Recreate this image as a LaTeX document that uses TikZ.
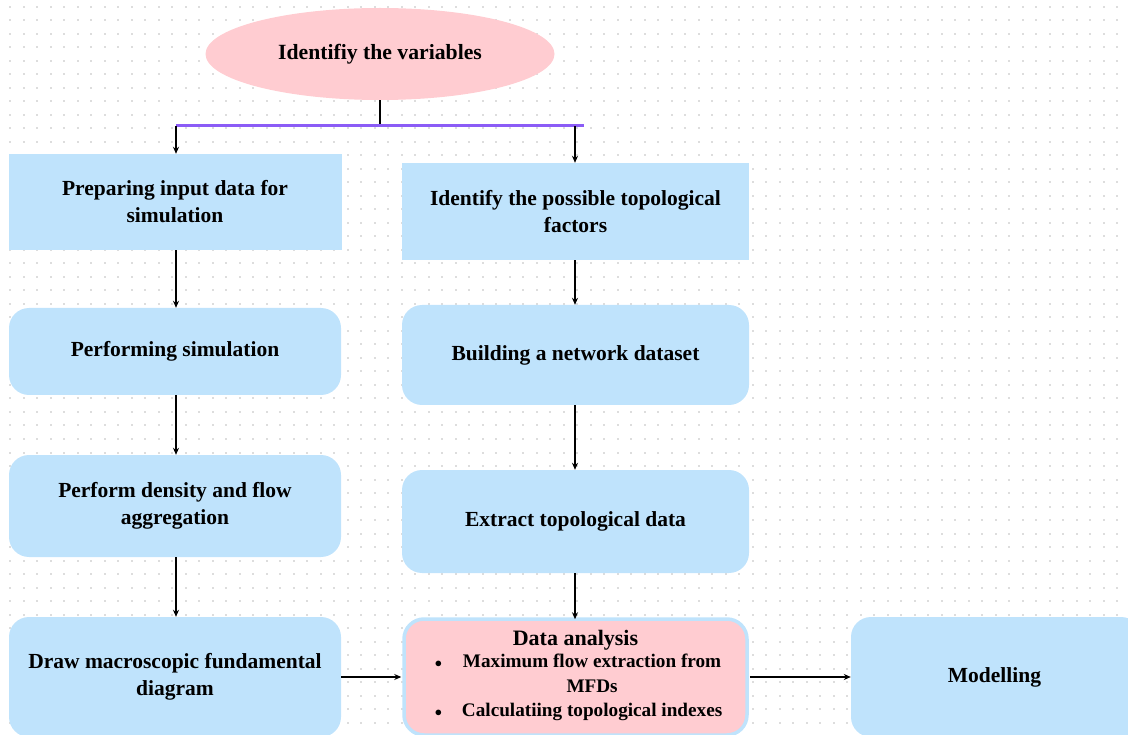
\documentclass[tikz,border=0pt]{standalone}
\usepackage{fontspec}
\setmainfont{Liberation Serif}
\usetikzlibrary{shapes.geometric,arrows.meta}
\definecolor{boxblue}{RGB}{191,227,252}
\definecolor{softpink}{RGB}{255,204,209}
\definecolor{barpurple}{RGB}{139,92,246}
\definecolor{dotgray}{RGB}{221,221,221}
\tikzset{
  stepbox/.style={fill=boxblue, draw=none, minimum width=#1, inner sep=0pt,
    align=center, font=\fontsize{21.5}{27}\selectfont\bfseries},
  roundbox/.style={stepbox=#1, rounded corners=20pt},
  flow/.style={draw=black, line width=1.2pt, -{Stealth[length=7pt,width=6pt]}},
}
\begin{document}
\begin{tikzpicture}[x=1pt,y=-1pt]
\useasboundingbox (0,0) rectangle (1128,735);
\clip (0,0) rectangle (1128,735);
% dotted grid background
\foreach \i in {0,...,82} {
  \foreach \j in {0,...,54} {
    \fill[dotgray] ({10+13.5*\i-1},{7+13.5*\j-1}) rectangle ++(2,2);
  }
}
% top ellipse
\node[ellipse, fill=softpink, minimum width=349pt, minimum height=92pt, inner sep=0pt,
  font=\fontsize{21.7}{26}\selectfont\bfseries] (top) at (380,54) {Identifiy the variables};
% left column
\node[stepbox=333pt, minimum height=96pt] (L1) at (175,202) {Preparing input data for\\simulation};
\node[roundbox=332pt, minimum height=87pt] (L2) at (175,351.5) {Performing simulation};
\node[roundbox=332pt, minimum height=102pt] (L3) at (175,506) {Perform density and flow\\aggregation};
\node[roundbox=332pt, minimum height=120pt] (L4) at (175,677) {Draw macroscopic fundamental\\diagram};
% right column
\node[stepbox=347pt, minimum height=97pt] (R1) at (575.5,211.5) {Identify the possible topological\\factors};
\node[roundbox=347pt, minimum height=100pt] (R2) at (575.5,355) {Building a network dataset};
\node[roundbox=347pt, minimum height=103pt] (R3) at (575.5,521.5) {Extract topological data};
\node[roundbox=343pt, minimum height=116pt, fill=softpink, draw=boxblue, line width=3.5pt,
  font=\fontsize{19.2}{24.5}\selectfont\bfseries] (R4) at (575.5,677)
  {\fontsize{22}{24}\selectfont Data analysis\\[0pt]
   \begin{tabular}{@{}c@{\hspace{20pt}}c@{}}
   {\normalfont\fontsize{14}{24.5}\selectfont$\bullet$} & Maximum flow extraction from\\
             & MFDs\\
   {\normalfont\fontsize{14}{24.5}\selectfont$\bullet$} & Calculatiing topological indexes
   \end{tabular}\hspace*{-6pt}};
% final box
\node[roundbox=290pt, minimum height=120pt] (M) at (996,677) {\hspace*{-3pt}Modelling};
% branching from the top
\coordinate (bl) at (176,126);
\coordinate (ba) at (575,126);
\coordinate (br) at (584,126);
\draw[line width=1.3pt] (top.south) -- (top.south |- bl);
\draw[barpurple, line width=3pt] (bl) -- (br);
\draw[flow] (bl) -- (bl |- L1.north);
\draw[flow] (ba) -- (ba |- R1.north);
% column connectors
\draw[flow] (L1.south -| bl) -- (L2.north -| bl);
\draw[flow] (L2.south -| bl) -- (L3.north -| bl);
\draw[flow] (L3.south -| bl) -- (L4.north -| bl);
\draw[flow] (R1.south -| ba) -- (R2.north -| ba);
\draw[flow] (R2.south -| ba) -- (R3.north -| ba);
\draw[flow] (R3.south -| ba) -- ([yshift=-2pt]R4.north -| ba);
% horizontal connectors
\draw[flow] (L4.east) -- ([xshift=-1pt]L4.east -| R4.west);
\draw[flow] ([xshift=1pt]R4.east) -- (R4.east -| M.west);
\end{tikzpicture}
\end{document}
